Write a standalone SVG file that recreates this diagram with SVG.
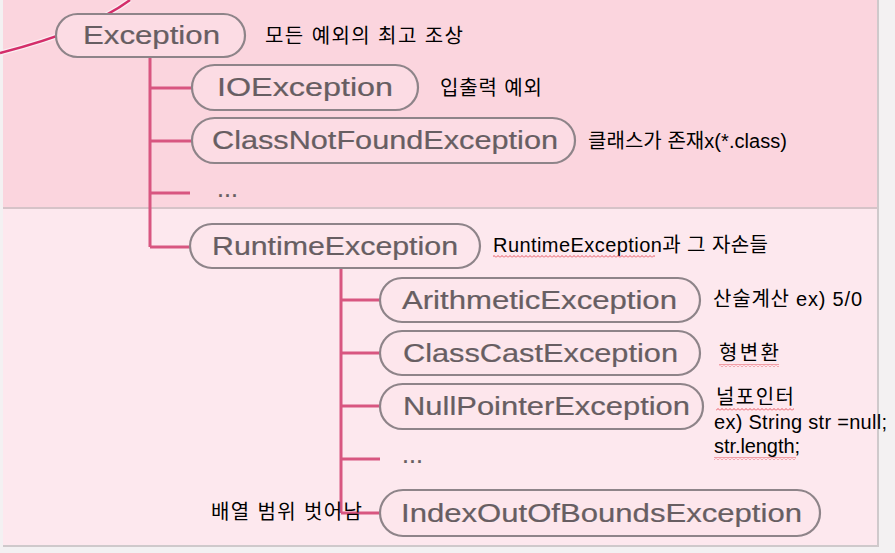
<svg xmlns="http://www.w3.org/2000/svg" width="895" height="553" viewBox="0 0 895 553">
<defs>
<style>
.pill{fill:#fde6ec;stroke:#8e8489;stroke-width:2.2}
.up .pill{fill:#fcdce4}
.nt{font-family:"Liberation Sans",Arial,sans-serif;font-size:25px;fill:#675e62;stroke:#675e62;stroke-width:0.2}
.an{font-family:"Liberation Sans","Noto Sans CJK KR",sans-serif;font-size:20px;fill:#000}
.cn{stroke:#d85680;stroke-width:3;fill:none}
</style>
<pattern id="wavy" width="4" height="3" patternUnits="userSpaceOnUse">
<path d="M0 2.5 L2 0.5 L4 2.5" fill="none" stroke="#e0303a" stroke-width="0.8"/>
</pattern>
</defs>
<rect x="0" y="0" width="895" height="553" fill="#f3f1f2"/>
<rect x="3" y="0" width="875" height="208" fill="#fbd5de"/>
<rect x="3" y="208" width="875" height="338" fill="#fde8ee"/>
<line x1="3" y1="208" x2="878" y2="208" stroke="#d6c3c8" stroke-width="2"/>
<line x1="878" y1="0" x2="878" y2="547" stroke="#cfc9cb" stroke-width="2"/>
<line x1="3" y1="546" x2="879" y2="546" stroke="#cfc9cb" stroke-width="2"/>
<path d="M0 53 Q90 30 130 0" fill="none" stroke="#fbeef2" stroke-width="5"/>
<path d="M0 53 Q90 30 130 0" fill="none" stroke="#d42e6a" stroke-width="2.5"/>
<g id="connectors">
<path class="cn" d="M150 57 V247 M150 88 H192 M150 141 H192 M150 193 H190 M150 247 H190"/>
<path class="cn" d="M341 268 V513 M341 300 H380 M341 353 H380 M341 406 H380 M341 459 H380 M341 513 H380"/>
</g>
<g class="up">
<g id="n-exception"><rect class="pill" x="56" y="14" width="189" height="43" rx="21.5"/><text class="nt" x="83" y="44" textLength="137" lengthAdjust="spacingAndGlyphs">Exception</text></g>
<g id="n-ioexception"><rect class="pill" x="192" y="65" width="226" height="45" rx="22.5"/><text class="nt" x="217" y="96" textLength="176" lengthAdjust="spacingAndGlyphs">IOException</text></g>
<g id="n-classnotfound"><rect class="pill" x="192" y="118" width="383" height="45" rx="22.5"/><text class="nt" x="212" y="149" textLength="346" lengthAdjust="spacingAndGlyphs">ClassNotFoundException</text></g>
<g id="n-dots1"><text class="nt" x="217" y="197" font-size="20">...</text></g>
</g>
<g id="n-runtime"><rect class="pill" x="190" y="224" width="290" height="44" rx="22"/><text class="nt" x="212" y="255" textLength="246" lengthAdjust="spacingAndGlyphs">RuntimeException</text></g>
<g id="n-arithmetic"><rect class="pill" x="380" y="278" width="320" height="44" rx="22"/><text class="nt" x="402" y="309" textLength="275" lengthAdjust="spacingAndGlyphs">ArithmeticException</text></g>
<g id="n-classcast"><rect class="pill" x="380" y="331" width="320" height="44" rx="22"/><text class="nt" x="403" y="362" textLength="275" lengthAdjust="spacingAndGlyphs">ClassCastException</text></g>
<g id="n-nullpointer"><rect class="pill" x="380" y="384" width="323" height="45" rx="22.5"/><text class="nt" x="403" y="415" textLength="287" lengthAdjust="spacingAndGlyphs">NullPointerException</text></g>
<g id="n-dots2"><text class="nt" x="402" y="463" font-size="20">...</text></g>
<g id="n-indexoutofbounds"><rect class="pill" x="380" y="490" width="440" height="46" rx="23"/><text class="nt" x="401" y="522" textLength="401" lengthAdjust="spacingAndGlyphs">IndexOutOfBoundsException</text></g>
<g id="annotations">
<text class="an" x="265" y="43" textLength="198" lengthAdjust="spacing">모든 예외의 최고 조상</text>
<text class="an" x="440" y="95" textLength="102" lengthAdjust="spacing">입출력 예외</text>
<text class="an" x="588" y="148" textLength="199" lengthAdjust="spacing">클래스가 존재x(*.class)</text>
<text class="an" x="493" y="252" textLength="275" lengthAdjust="spacing">RuntimeException과 그 자손들</text>
<text class="an" x="713" y="306" textLength="149" lengthAdjust="spacing">산술계산 ex) 5/0</text>
<text class="an" x="719" y="360" textLength="60" lengthAdjust="spacing">형변환</text>
<text class="an" x="716" y="404" textLength="78" lengthAdjust="spacing">널포인터</text>
<text class="an" x="714" y="429" textLength="173" lengthAdjust="spacing">ex) String str =null;</text>
<text class="an" x="714" y="453" textLength="86" lengthAdjust="spacing">str.length;</text>
<text class="an" x="211" y="519" textLength="151" lengthAdjust="spacing">배열 범위 벗어남</text>
<rect x="493" y="255" width="162" height="3" fill="url(#wavy)"/>
<rect x="719" y="364" width="60" height="3" fill="url(#wavy)"/>
<rect x="716" y="408" width="78" height="3" fill="url(#wavy)"/>
<rect x="714" y="457" width="82" height="3" fill="url(#wavy)"/>
</g>
</svg>
